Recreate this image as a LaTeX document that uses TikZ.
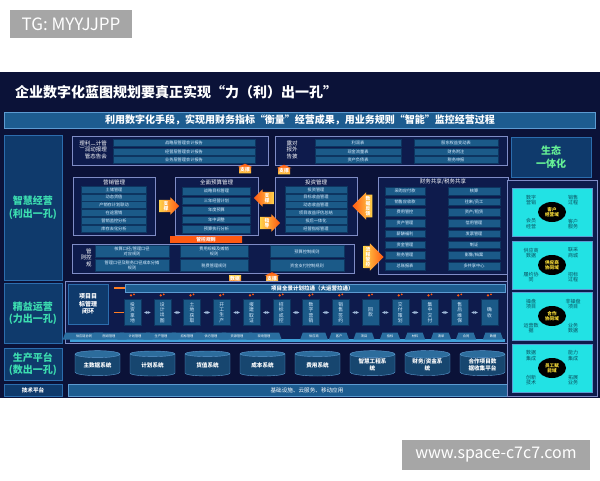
\documentclass[tikz,border=0pt]{standalone}
\usepackage{fontspec}
\setmainfont{Noto Sans CJK SC}
\usetikzlibrary{shapes.geometric,shapes.arrows}
\definecolor{bgdark}{HTML}{0B1238}
\definecolor{panelfill}{HTML}{0E1B4C}
\definecolor{panelline}{HTML}{7F8CC6}
\definecolor{itemfill}{HTML}{1B5A88}
\definecolor{itemline}{HTML}{0D3560}
\definecolor{itemtext}{HTML}{DCEEFF}
\definecolor{leftfill}{HTML}{0F3A6C}
\definecolor{leftline}{HTML}{2C6DAE}
\definecolor{lefttext}{HTML}{3CDDB0}
\definecolor{barfill}{HTML}{1D5C90}
\definecolor{barline}{HTML}{5C9BD2}
\definecolor{cyanfill}{HTML}{22E2E4}
\definecolor{cyantext}{HTML}{0B4F5E}
\definecolor{hubtext}{HTML}{FFE23A}
\definecolor{arrowa}{HTML}{FFD24A}
\definecolor{arrowb}{HTML}{FF5A12}
\definecolor{markgray}{HTML}{A6A6A6}
\definecolor{cylbody}{HTML}{17466F}
\definecolor{cylend}{HTML}{2C6C9C}
\definecolor{tabfill}{HTML}{2A6EA0}
\definecolor{trayfill}{HTML}{3FA0D8}
\definecolor{linkgray}{HTML}{9FB8D8}
\tikzset{
  panel/.style={draw=panelline, fill=panelfill, line width=0.6pt, inner sep=0pt},
  item/.style={draw=itemline, fill=itemfill, text=itemtext, inner sep=0pt,
    minimum height=7pt, align=center, font=\fontsize{4.2}{4.6}\selectfont},
  ptitle/.style={text=white, inner sep=0pt, font=\fontsize{5.5}{6}\selectfont},
  vlabel/.style={text=white, inner sep=0pt, font=\fontsize{5.5}{6.2}\selectfont},
  leftbox/.style={draw=leftline, fill=leftfill, line width=0.8pt, text=lefttext,
    align=center, inner sep=0pt, font=\fontsize{10}{12.5}\selectfont\bfseries},
  subbar/.style={draw=barline, fill=barfill, text=white, inner sep=0pt,
    minimum width=591, minimum height=16, font=\fontsize{10}{10}\selectfont\bfseries},
  arrowR/.style={single arrow, draw=none, left color=arrowa, right color=arrowb,
    text=white, inner sep=1pt, single arrow head extend=2.5pt, align=center,
    font=\fontsize{4.8}{5.2}\selectfont\bfseries},
  arrowL/.style={arrowR, shape border rotate=180, left color=arrowb, right color=arrowa},
  arrowU/.style={arrowR, shape border rotate=90, bottom color=arrowa, top color=arrowb,
    single arrow tip angle=130, single arrow head extend=1.5pt},
  arrowD/.style={arrowU, shape border rotate=270, top color=arrowa, bottom color=arrowb},
  banner/.style={left color=arrowb, middle color=arrowa, right color=arrowb, text=white,
    inner sep=0pt, minimum width=72, minimum height=6.5, font=\fontsize{4.8}{5.2}\selectfont\bfseries},
  stepbox/.style={draw=itemline, fill=itemfill, text=itemtext, inner sep=0pt,
    minimum width=17, minimum height=26, align=center, font=\fontsize{4.8}{5.4}\selectfont},
  link/.style={<->, >=stealth, draw=linkgray, line width=0.4pt, shorten >=3pt, shorten <=3pt},
  glow/.style={draw=arrowb!70!arrowa, line width=1.4pt, shorten <=6pt},
  flame/.style={fill=arrowb},
  tab/.style={trapezium, trapezium left angle=70, trapezium right angle=70, fill=tabfill,
    text=white, inner sep=0pt, minimum width=18, minimum height=7,
    font=\fontsize{3.2}{3.4}\selectfont},
  cyl/.style={cylinder, shape border rotate=90, aspect=0.25, cylinder uses custom fill,
    cylinder body fill=cylbody, cylinder end fill=cylend, draw=barline, line width=0.4pt,
    minimum width=45, minimum height=25, inner sep=0pt, text=white, align=center,
    font=\fontsize{5.6}{6.4}\selectfont\bfseries},
  greenbox/.style={draw=barline, fill=cyanfill, line width=0.6pt, inner sep=0pt,
    minimum width=80, minimum height=48},
  corner/.style={text=cyantext, align=center, inner sep=0pt, font=\fontsize{5}{5.8}\selectfont},
  hub/.style={ellipse, fill=black, text=hubtext, align=center, inner sep=0pt,
    minimum width=28, minimum height=20, font=\fontsize{4.6}{5.2}\selectfont\bfseries},
  markbox/.style={fill=markgray, text=white, inner sep=0pt, font=\fontsize{17}{17}\selectfont}
}
\begin{document}
\begin{tikzpicture}[x=1pt, y=-1pt]
  \useasboundingbox (0,0) rectangle (600,480);
  \fill[white] (0,0) rectangle (600,480);
  \fill[bgdark] (0,72) rectangle (600,398);
  % watermarks
  \node[markbox, minimum width=122, minimum height=28] (tg) at (71,24) {TG: MYYJJPP};
  \node[markbox, minimum width=188, minimum height=30, font=\fontsize{16}{16}\selectfont] (url) at (496,455) {www.space-c7c7.com};
  % title
  \node[anchor=west, text=white, inner sep=0pt, font=\fontsize{14}{14}\selectfont\bfseries] (title) at (15,92)
    {企业数字化蓝图规划要真正实现“力（利）出一孔”};
  \node[subbar] (sub) at (300,120) {利用数字化手段，实现用财务指标“衡量”经营成果，用业务规则“智能”监控经营过程};
  % left column
  \node[leftbox, minimum width=58, minimum height=145] (zhjy) at (33,207.5) {智慧经营\\(利出一孔)};
  \node[leftbox, minimum width=58, minimum height=60] (jyyy) at (33,313) {精益运营\\(力出一孔)};
  \node[leftbox, minimum width=58, minimum height=32] (scpt) at (33,364) {生产平台\\(数出一孔)};
  \node[leftbox, minimum width=58, minimum height=12, text=white,
    font=\fontsize{5.6}{6}\selectfont\bfseries] (jspt) at (33,390) {技术平台};
  % management accounting reports
  \node[panel, minimum width=196, minimum height=29] (glhk) at (170,150.5) {};
  \node[vlabel] (glhkl) at (93,150.5) {\begin{tabular}{@{}c@{}c@{}c@{}c@{}c@{}}
    理&利&︵&计&管\\ ︶&润&动&报&理\\ &管&态&告&会\end{tabular}};
  \node[item, minimum width=142] (gl1) at (184,143) {战略层管理会计报告};
  \node[item, minimum width=142] (gl2) at (184,151.5) {经营层管理会计报告};
  \node[item, minimum width=142] (gl3) at (184,160) {业务层管理会计报告};
  % external reports
  \node[panel, minimum width=232, minimum height=29] (dwpl) at (391,150.5) {};
  \node[vlabel] (dwpll) at (292,150.5) {\begin{tabular}{@{}c@{}c@{}}
    露&对\\ 报&外\\ 告&披\end{tabular}};
  \node[item, minimum width=86] (dw1) at (358,143) {利润表};
  \node[item, minimum width=86] (dw2) at (358,151.5) {现金流量表};
  \node[item, minimum width=86] (dw3) at (358,160) {资产负债表};
  \node[item, minimum width=84] (dw4) at (456,143) {股东权益变动表};
  \node[item, minimum width=84] (dw5) at (456,151.5) {财务附注};
  \node[item, minimum width=84] (dw6) at (456,160) {税务申报};
  % marketing
  \node[panel, minimum width=82, minimum height=58] (yxgl) at (114,206) {};
  \node[ptitle] (yxglt) at (114,182) {营销管理};
  \node[item, minimum width=65] (yx1) at (114,189.5) {土储管理};
  \node[item, minimum width=65] (yx2) at (114,197.3) {动态货值};
  \node[item, minimum width=65] (yx3) at (114,205.1) {产销存计划联动};
  \node[item, minimum width=65] (yx4) at (114,212.9) {在途营销};
  \node[item, minimum width=65] (yx5) at (114,220.7) {营销监控分析};
  \node[item, minimum width=65] (yx6) at (114,228.5) {库存去化分析};
  % budget
  \node[panel, minimum width=83, minimum height=58] (qmys) at (216.5,206) {};
  \node[ptitle] (qmyst) at (216.5,182) {全面预算管理};
  \node[item, minimum width=68, minimum height=7.5] (ys1) at (216.5,191) {战略目标管理};
  \node[item, minimum width=68, minimum height=7.5] (ys2) at (216.5,200.5) {三年经营计划};
  \node[item, minimum width=68, minimum height=7.5] (ys3) at (216.5,210) {年度预算};
  \node[item, minimum width=68, minimum height=7.5] (ys4) at (216.5,219.5) {年中调整};
  \node[item, minimum width=68, minimum height=7.5] (ys5) at (216.5,229) {预算执行分析};
  % investment
  \node[panel, minimum width=82, minimum height=58] (tzgl) at (316,206) {};
  \node[ptitle] (tzglt) at (316,182) {投资管理};
  \node[item, minimum width=62] (tz1) at (316,189.5) {投资管理};
  \node[item, minimum width=62] (tz2) at (316,197.3) {目标收益管理};
  \node[item, minimum width=62] (tz3) at (316,205.1) {动态收益管理};
  \node[item, minimum width=62] (tz4) at (316,212.9) {项目收益评估总结};
  \node[item, minimum width=62] (tz5) at (316,220.7) {投后一体化};
  \node[item, minimum width=62] (tz6) at (316,228.5) {经营指标管理};
  % shared services
  \node[panel, minimum width=130, minimum height=97] (cwgx) at (443,226) {};
  \node[ptitle] (cwgxt) at (443,182) {财务共享/税务共享};
  \node[item, minimum width=40, minimum height=7.5] (cw1) at (405,191) {采购应付款};
  \node[item, minimum width=40, minimum height=7.5] (cw2) at (405,201.7) {销售应收款};
  \node[item, minimum width=40, minimum height=7.5] (cw3) at (405,212.4) {费用管控};
  \node[item, minimum width=40, minimum height=7.5] (cw4) at (405,223.1) {资产管理};
  \node[item, minimum width=40, minimum height=7.5] (cw5) at (405,233.9) {薪酬福利};
  \node[item, minimum width=40, minimum height=7.5] (cw6) at (405,244.6) {资金管理};
  \node[item, minimum width=40, minimum height=7.5] (cw7) at (405,255.3) {税务管理};
  \node[item, minimum width=40, minimum height=7.5] (cw8) at (405,266) {总账报表};
  \node[item, minimum width=52, minimum height=7.5] (cw9) at (474,191) {核算};
  \node[item, minimum width=52, minimum height=7.5] (cw10) at (474,201.7) {往来/员工};
  \node[item, minimum width=52, minimum height=7.5] (cw11) at (474,212.4) {资产/租赁};
  \node[item, minimum width=52, minimum height=7.5] (cw12) at (474,223.1) {信用管理};
  \node[item, minimum width=52, minimum height=7.5] (cw13) at (474,233.9) {发票管理};
  \node[item, minimum width=52, minimum height=7.5] (cw14) at (474,244.6) {制证};
  \node[item, minimum width=52, minimum height=7.5] (cw15) at (474,255.3) {影像/档案};
  \node[item, minimum width=52, minimum height=7.5] (cw16) at (474,266) {多共享中心};
  % control rules
  \node[panel, minimum width=282, minimum height=29] (gkgz) at (213,258.5) {};
  \node[vlabel] (gkgzl) at (86,258.5) {\begin{tabular}{@{}c@{}c@{}}
    &管\\ 则&控\\ &规\end{tabular}};
  \node[item, minimum width=74, minimum height=12] (gk1) at (132,251.5) {核算口径/管理口径\\对应规则};
  \node[item, minimum width=74, minimum height=12] (gk2) at (132,265.5) {管理口径及税务口径成本分摊\\规则};
  \node[item, minimum width=68, minimum height=12] (gk3) at (214,251.5) {费用规模及摊销\\规则};
  \node[item, minimum width=68, minimum height=12] (gk4) at (214,265.5) {税费管理规则};
  \node[item, minimum width=74, minimum height=12] (gk5) at (307,251.5) {预算控制规则};
  \node[item, minimum width=74, minimum height=12] (gk6) at (307,265.5) {资金支付控制规则};
  % orange arrows
  \node[arrowU, minimum height=9] (a6) at (245,170) {支撑};
  \node[arrowU, minimum height=9] (a7) at (284,171) {支撑};
  \node[arrowR, minimum height=20] (a1) at (166,206) {支\\撑};
  \node[arrowL, minimum height=20] (a2) at (267,198) {支\\撑};
  \node[arrowR, minimum height=20] (a3) at (267,223) {指\\导};
  \node[arrowL, minimum height=20] (a4) at (368,206) {数\\据\\反\\馈};
  \node[arrowR, minimum height=20] (a5) at (368,257) {流\\程\\管\\控};
  \node[banner] (a8) at (206,239.5) {管控规则};
  \node[arrowD, minimum height=8] (a9) at (235,278.5) {数据};
  \node[arrowU, minimum height=8] (a10) at (272,278.5) {支撑};
  % lean operation
  \node[panel, minimum width=443, minimum height=62] (xmpanel) at (286.5,312.5) {};
  \node[leftbox, minimum width=40, minimum height=40, text=white,
    font=\fontsize{6}{7.5}\selectfont\bfseries] (xmmb) at (88,304) {项目目\\标管理\\闭环};
  \node[draw=barline, fill=barfill, inner sep=0pt, minimum width=380, minimum height=8] (qjbar) at (315,288) {};
  \node[anchor=west, text=white, inner sep=0pt, font=\fontsize{5.5}{6}\selectfont\bfseries] (qjbart) at (271,288)
    {项目全景计划拉通（大运营拉通）};
  \node[stepbox] (s1) at (132.5,312.5) {投\\资\\拿\\地};
  \node[stepbox] (s2) at (162.25,312.5) {设\\计\\出\\图};
  \node[stepbox] (s3) at (192,312.5) {土\\地\\获\\取};
  \node[stepbox] (s4) at (221.75,312.5) {开\\工\\生\\产};
  \node[stepbox] (s5) at (251.5,312.5) {报\\建\\取\\证};
  \node[stepbox] (s6) at (281.25,312.5) {招\\标\\成\\控};
  \node[stepbox] (s7) at (311,312.5) {数\\字\\营\\销};
  \node[stepbox] (s8) at (340.75,312.5) {销\\售\\签\\约};
  \node[stepbox] (s9) at (370.5,312.5) {回\\款};
  \node[stepbox] (s10) at (400.25,312.5) {交\\付\\策\\划};
  \node[stepbox] (s11) at (430,312.5) {集\\中\\交\\付};
  \node[stepbox] (s12) at (459.75,312.5) {售\\后\\维\\保};
  \node[stepbox] (s13) at (489.5,312.5) {确\\收};
  \draw[glow] (xmmb.east |- qjbar.west) -- (qjbar.west);
  \draw[glow] (xmmb.east |- s1.west) -- (s1.west);
  \draw[link] (s1) -- (s2);
  \draw[link] (s2) -- (s3);
  \draw[link] (s3) -- (s4);
  \draw[link] (s4) -- (s5);
  \draw[link] (s5) -- (s6);
  \draw[link] (s6) -- (s7);
  \draw[link] (s7) -- (s8);
  \draw[link] (s8) -- (s9);
  \draw[link] (s9) -- (s10);
  \draw[link] (s10) -- (s11);
  \draw[link] (s11) -- (s12);
  \draw[link] (s12) -- (s13);
  \fill[flame] ([shift={(-1.5,-4)}]s1.north) circle (1.3) ([shift={(1.5,-5)}]s1.north) circle (1);
  \fill[flame] ([shift={(-1.5,-4)}]s2.north) circle (1.3) ([shift={(1.5,-5)}]s2.north) circle (1);
  \fill[flame] ([shift={(-1.5,-4)}]s3.north) circle (1.3) ([shift={(1.5,-5)}]s3.north) circle (1);
  \fill[flame] ([shift={(-1.5,-4)}]s4.north) circle (1.3) ([shift={(1.5,-5)}]s4.north) circle (1);
  \fill[flame] ([shift={(-1.5,-4)}]s5.north) circle (1.3) ([shift={(1.5,-5)}]s5.north) circle (1);
  \fill[flame] ([shift={(-1.5,-4)}]s6.north) circle (1.3) ([shift={(1.5,-5)}]s6.north) circle (1);
  \fill[flame] ([shift={(-1.5,-4)}]s7.north) circle (1.3) ([shift={(1.5,-5)}]s7.north) circle (1);
  \fill[flame] ([shift={(-1.5,-4)}]s8.north) circle (1.3) ([shift={(1.5,-5)}]s8.north) circle (1);
  \fill[flame] ([shift={(-1.5,-4)}]s9.north) circle (1.3) ([shift={(1.5,-5)}]s9.north) circle (1);
  \fill[flame] ([shift={(-1.5,-4)}]s10.north) circle (1.3) ([shift={(1.5,-5)}]s10.north) circle (1);
  \fill[flame] ([shift={(-1.5,-4)}]s11.north) circle (1.3) ([shift={(1.5,-5)}]s11.north) circle (1);
  \fill[flame] ([shift={(-1.5,-4)}]s12.north) circle (1.3) ([shift={(1.5,-5)}]s12.north) circle (1);
  \fill[flame] ([shift={(-1.5,-4)}]s13.north) circle (1.3) ([shift={(1.5,-5)}]s13.north) circle (1);
  % tabs
  \node[fill=trayfill, inner sep=0pt, minimum width=435, minimum height=3] (tray) at (287.5,340.5) {};
  \node[tab] (t1) at (84,336) {供应链协同};
  \node[tab] (t2) at (109,336) {图纸管理};
  \node[tab] (t3) at (135,336) {计划管理};
  \node[tab] (t4) at (161,336) {生产管理};
  \node[tab] (t5) at (187,336) {招标管理};
  \node[tab] (t6) at (211,336) {供方管理};
  \node[tab] (t7) at (237,336) {资源管理};
  \node[tab] (t8) at (264,336) {现场管理};
  \node[tab] (t9) at (314,336) {供应商};
  \node[tab] (t10) at (339,336) {客户};
  \node[tab] (t11) at (364,336) {项目};
  \node[tab] (t12) at (390,336) {指标};
  \node[tab] (t13) at (415,336) {材料};
  \node[tab] (t14) at (441,336) {清单};
  \node[tab] (t15) at (466,336) {合同};
  \node[tab] (t16) at (493,336) {数据};
  % systems
  \node[cyl] (c1) at (97.5,365) {主数据系统};
  \node[cyl] (c2) at (152.5,365) {计划系统};
  \node[cyl] (c3) at (207.5,365) {货值系统};
  \node[cyl] (c4) at (262.5,365) {成本系统};
  \node[cyl] (c5) at (317.5,365) {费用系统};
  \node[cyl] (c6) at (372.5,365) {智慧工程系\\统};
  \node[cyl] (c7) at (427.5,365) {财务/资金系\\统};
  \node[cyl] (c8) at (482.5,365) {合作项目数\\据收集平台};
  \node[draw=barline, fill=barfill, inner sep=0pt, minimum width=440, minimum height=12] (jsbar) at (288,390) {};
  \node[text=white, inner sep=0pt, font=\fontsize{5.6}{6}\selectfont] (jsbart) at (307,390) {基础设施、云服务、移动应用};
  % ecosystem column
  \node[leftbox, minimum width=80, minimum height=40, text=lefttext!60!green!70!white] (sthy) at (551,157) {生态\\一体化};
  \node[panel, minimum width=90, minimum height=216] (rframe) at (552,288) {};
  \node[greenbox] (g1) at (552,212) {};
  \node[hub] (h1) at (g1) {客户\\经营域};
  \node[corner] (g1a) at ([shift={(-21,-12)}]g1.center) {数字\\营销};
  \node[corner] (g1b) at ([shift={(21,-12)}]g1.center) {销售\\过程};
  \node[corner] (g1c) at ([shift={(-21,12)}]g1.center) {会员\\经营};
  \node[corner] (g1d) at ([shift={(21,12)}]g1.center) {客户\\服务};
  \node[greenbox] (g2) at (552,265) {};
  \node[hub] (h2) at (g2) {供应商\\协同域};
  \node[corner] (g2a) at ([shift={(-21,-12)}]g2.center) {供应商\\数据};
  \node[corner] (g2b) at ([shift={(21,-12)}]g2.center) {联采\\商城};
  \node[corner] (g2c) at ([shift={(-21,12)}]g2.center) {履约协\\同};
  \node[corner] (g2d) at ([shift={(21,12)}]g2.center) {招标\\过程};
  \node[greenbox] (g3) at (552,316) {};
  \node[hub] (h3) at (g3) {合作\\协同域};
  \node[corner] (g3a) at ([shift={(-21,-12)}]g3.center) {操盘\\项目};
  \node[corner] (g3b) at ([shift={(21,-12)}]g3.center) {非操盘\\项目};
  \node[corner] (g3c) at ([shift={(-21,12)}]g3.center) {运营数\\据};
  \node[corner] (g3d) at ([shift={(21,12)}]g3.center) {业务\\数据};
  \node[greenbox] (g4) at (552,368) {};
  \node[hub] (h4) at (g4) {员工赋\\能域};
  \node[corner] (g4a) at ([shift={(-21,-12)}]g4.center) {数据\\集成};
  \node[corner] (g4b) at ([shift={(21,-12)}]g4.center) {能力\\集成};
  \node[corner] (g4c) at ([shift={(-21,12)}]g4.center) {创新\\技术};
  \node[corner] (g4d) at ([shift={(21,12)}]g4.center) {拓展\\业务};
\end{tikzpicture}
\end{document}
